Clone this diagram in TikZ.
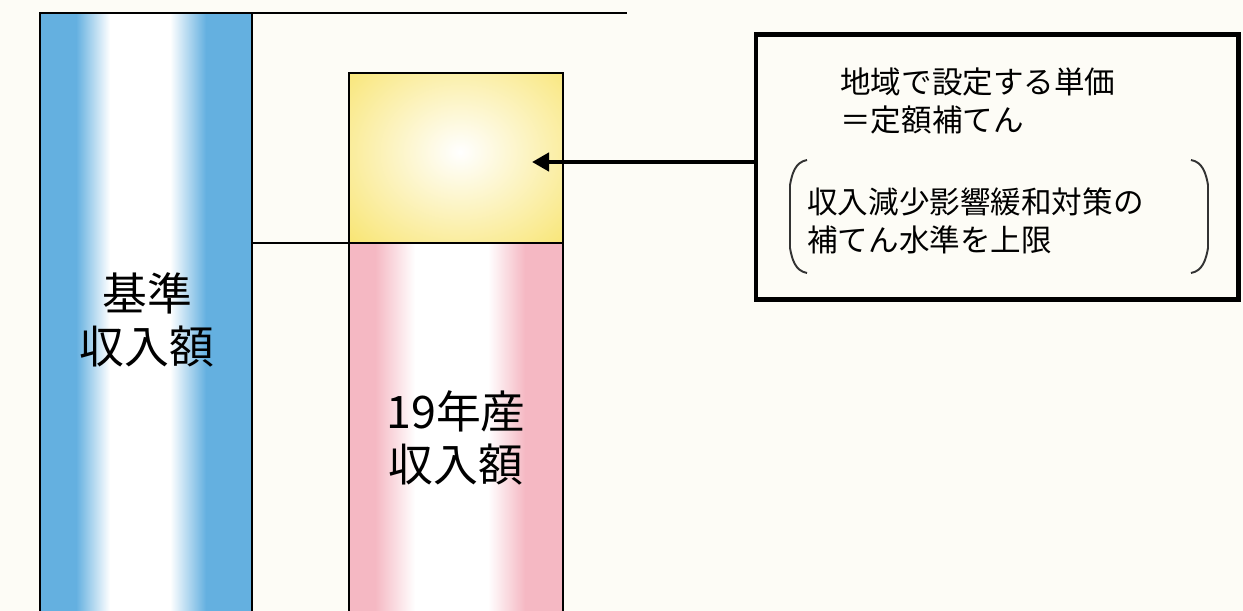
\documentclass[tikz,border=0pt]{standalone}
\usepackage{fontspec}
\setmainfont{Noto Sans CJK JP}
\usepackage{tikz}
\usetikzlibrary{calc, arrows.meta, positioning}

\definecolor{paper}{RGB}{253,252,246}
\definecolor{barblue}{RGB}{100,176,224}
\definecolor{barpink}{RGB}{245,184,195}
\definecolor{baryellow}{RGB}{248,228,110}

\tikzset{
	bigtext/.style={font=\fontsize{25.5pt}{30pt}\selectfont, align=center, inner sep=0pt},
	boxtext/.style={font=\fontsize{17.4pt}{21.5pt}\selectfont, align=left, inner sep=0pt, anchor=west},
	barline/.style={black, line width=1.1pt},
	paren/.style={black!80, line width=1.1pt},
}

\begin{document}
\begin{tikzpicture}[x=0.02cm, y=-0.02cm]
		\useasboundingbox (0,0) rectangle (1243,611);
		\clip (0,0) rectangle (1243,611);
		\fill[paper] (0,0) rectangle (1243,611);

		% base bar
		\fill[barblue] (40,13) rectangle (76,640);
		\shade[left color=barblue, right color=white] (76,13) rectangle (110,640);
		\fill[white] (110,13) rectangle (170,640);
		\shade[left color=white, right color=barblue] (170,13) rectangle (206,640);
		\fill[barblue] (206,13) rectangle (252,640);
		\draw[barline] (40,640) -- (40,13) coordinate (B) -- (252,13) -- (252,640);

		% 19 bar
		\fill[barpink] (349,243) rectangle (375,640);
		\shade[left color=barpink, right color=white] (375,243) rectangle (415,640);
		\fill[white] (415,243) rectangle (488,640);
		\shade[left color=white, right color=barpink] (488,243) rectangle (525,640);
		\fill[barpink] (525,243) rectangle (563,640);
		\draw[barline] (349,640) -- (349,243) -- (563,243) -- (563,640);

		% top-up part
		\begin{scope}
			\clip (349,73) rectangle (563,243);
			\fill[baryellow] (349,73) rectangle (563,243);
			\shade[inner color=white, outer color=baryellow] (460,152) ellipse (160 and 135);
		\end{scope}
		\draw[barline] (349,73) rectangle (563,243);

		\draw[barline] (B) -- (627,13);
		\draw[barline] (252,243) -- (349,243);

		\node[bigtext] (base) at (147,320) {基準\\収入額};
		\node[bigtext] (crop) at (456,438) {19年産\\収入額};

		\node[draw, line width=2.6pt, inner sep=0pt, minimum width=9.65cm, minimum height=5.3cm] (box) at (997,167) {};
		\node[boxtext] (price) at (840,101) {地域で設定する単価\\＝定額補てん};
		\node[boxtext] (limit) at (807,221) {収入減少影響緩和対策の\\補てん水準を上限};

		\draw[paren] (807,160) to[out=190,in=80] (790,185) -- (790,248) to[out=-80,in=170] (807,273);
		\draw[paren] (1191,160) to[out=-10,in=100] (1208,185) -- (1208,248) to[out=-100,in=10] (1191,273);

		\coordinate (tip) at (532,162);
		\draw[line width=2.8pt, -{Stealth[length=17*0.02cm, width=18*0.02cm, inset=0pt]}] (box.west |- tip) -- (tip);
	\end{tikzpicture}
\end{document}
